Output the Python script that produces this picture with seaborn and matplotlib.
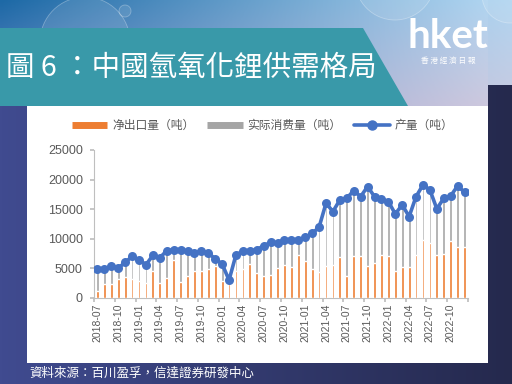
import numpy as np
import pandas as pd
import matplotlib
matplotlib.use("Agg")
import matplotlib.pyplot as plt
import seaborn as sns
from matplotlib.patches import Polygon, Rectangle, Circle
from matplotlib.lines import Line2D

# === Data ===
months = pd.period_range("2018-07", periods=54, freq="M").strftime("%Y-%m")
tick_labels = ["2018-07", "2018-10", "2019-01", "2019-04", "2019-07", "2019-10",
               "2020-01", "2020-04", "2020-07", "2020-10", "2021-01", "2021-04",
               "2021-07", "2021-10", "2022-01", "2022-04", "2022-07", "2022-10"]

net_export = [1240, 2300, 2300, 3150, 3480, 3150, 2920, 2470, 4490, 2470,
              3310, 6350, 2700, 3650, 4490, 4490, 4890, 5340, 2870, 2360,
              4550, 4940, 5670, 4210, 3650, 3820, 5110, 5620, 5220, 7190,
              6290, 4890, 4380, 5340, 5620, 6910, 3650, 7020, 7020, 5340,
              5840, 7190, 7020, 4550, 5280, 5170, 7190, 9720, 9210, 7250,
              7360, 9550, 8600, 8540]
consumption = [3500, 2450, 2840, 1710, 2330, 3670, 3340, 2950, 2500, 4130,
               4470, 1600, 5250, 4020, 2890, 3180, 2490, 1090, 2660, 470,
               2550, 2730, 2000, 3740, 4970, 5360, 3900, 4010, 4300, 2330,
               3730, 5810, 7390, 10470, 8790, 9460, 13000, 10930, 9910, 13280,
               11090, 9350, 9070, 9460, 10250, 8390, 9740, 9180, 8850, 7610,
               9290, 7500, 10130, 9130]
production = [4900, 4950, 5340, 5060, 6010, 7020, 6460, 5620, 7190, 6800,
              7980, 8150, 8150, 7870, 7580, 7870, 7580, 6630, 5730, 3030,
              7300, 7870, 7870, 8150, 8820, 9380, 9210, 9830, 9720, 9720,
              10220, 10900, 11970, 16010, 14610, 16570, 16850, 18150, 17130, 18820,
              17130, 16740, 16290, 14210, 15730, 13760, 17130, 19100, 18260, 15060,
              16850, 17250, 18930, 17870]

df = pd.DataFrame({"month": months, "export": net_export,
                   "consumption": consumption, "production": production})
df["stack_top"] = df["export"] + df["consumption"]
df["pos"] = np.arange(len(df))

ORANGE = "#ED7D31"
GRAY = "#A5A5A5"
BLUE = "#4472C4"
TEXT = "#595959"
AXIS = "#BFBFBF"

sns.set_theme(style="white")
plt.rcParams["font.family"] = ["Liberation Sans", "DejaVu Sans"]

fig = plt.figure(figsize=(5.12, 3.84), dpi=100)

# === Slide background ===
bg = fig.add_axes([0, 0, 1, 1], zorder=-1)
bg.set_xlim(0, 512)
bg.set_ylim(384, 0)
bg.axis("off")

# dark navy base, lighter on the left
left_c = np.array([64, 75, 144]) / 255
right_c = np.array([37, 41, 77]) / 255
t = np.linspace(0, 1, 256)[None, :, None]
bg.imshow(left_c + (right_c - left_c) * t, extent=(0, 512, 384, 0), aspect="auto")

# sky gradient at the top
tl = np.array([29, 105, 166]) / 255
tr = np.array([175, 212, 240]) / 255
bl = np.array([110, 140, 200]) / 255
br = np.array([205, 200, 222]) / 255
u = np.linspace(0, 1, 128)[None, :, None]
v = np.linspace(0, 1, 64)[:, None, None]
sky = (tl * (1 - u) + tr * u) * (1 - v) + (bl * (1 - u) + br * u) * v
bg.imshow(sky, extent=(0, 488, 106, 0), aspect="auto")
bg.imshow(sky[:44, -4:], extent=(488, 512, 85, 0), aspect="auto")
for cx, cy, r in [(85, 42, 45), (125, 11, 6), (395, -20, 40), (510, -5, 28)]:
    c = Circle((cx, cy), r, facecolor=(1, 1, 1, 0.10), edgecolor=(1, 1, 1, 0.3), lw=0.6)
    c.set_clip_path(Rectangle((0, 0), 512, 28, transform=bg.transData))
    bg.add_patch(c)

# teal title banner
bg.add_patch(Polygon([(0, 28), (363, 28), (408, 106), (0, 106)], closed=True,
                     facecolor="#3999A9", edgecolor="none"))
# white chart panel
bg.add_patch(Rectangle((27, 106), 461, 257, facecolor="white", edgecolor="none"))

cjk_tc = ["Noto Sans CJK TC", "DejaVu Sans"]
cjk_sc = ["Noto Sans CJK SC", "DejaVu Sans"]
bg.text(6, 68, "圖 6 ：中國氫氧化鋰供需格局", color="white", fontsize=20.5,
        va="center", ha="left", family=cjk_tc)
bg.text(448, 37, "hket", color="white", fontsize=29, fontweight="bold",
        va="center", ha="center", family=["Lato", "DejaVu Sans"])
bg.text(448, 61, "香 港 經 濟 日 報", color="white", fontsize=5.5,
        va="center", ha="center", family=cjk_tc)
bg.text(29, 373, "資料來源：百川盈孚，信達證券研發中心", color="white", fontsize=9,
        va="center", ha="left", family=cjk_tc)

# === Chart ===
ax = fig.add_axes([94 / 512, 86 / 384, 374 / 512, 148 / 384])

sns.barplot(data=df, x="month", y="stack_top", color=GRAY, saturation=1,
            width=0.4, ax=ax, zorder=2)
sns.barplot(data=df, x="month", y="export", color=ORANGE, saturation=1,
            width=0.4, ax=ax, zorder=3)
sns.lineplot(data=df, x="pos", y="production", color=BLUE, lw=2.6,
             marker="o", markersize=6.5, markeredgewidth=0, ax=ax, zorder=4)

ax.set_xlim(-0.5, 53.5)
ax.set_ylim(0, 25000)
ax.set_xlabel("")
ax.set_ylabel("")

for s in ["top", "right"]:
    ax.spines[s].set_visible(False)
for s in ["left", "bottom"]:
    ax.spines[s].set_color(AXIS)
    ax.spines[s].set_linewidth(0.8)

ax.set_yticks(np.arange(0, 25001, 5000))
ax.set_yticklabels([str(v) for v in range(0, 25001, 5000)])
ax.tick_params(axis="y", which="major", length=3, color=AXIS, pad=5,
               labelsize=9, labelcolor=TEXT, left=True)

ax.set_xticks(np.arange(-0.5, 54, 3))
ax.set_xticklabels([])
ax.set_xticks(np.arange(0, 54, 3), minor=True)
ax.set_xticklabels(tick_labels, minor=True, rotation=90)
ax.tick_params(axis="x", which="major", length=3, color=AXIS, bottom=True)
ax.tick_params(axis="x", which="minor", length=0, pad=4, labelsize=7.5,
               labelcolor=TEXT, bottom=True)
ax.grid(False)

handles = [Line2D([], [], color=ORANGE, lw=5, solid_capstyle="butt"),
           Line2D([], [], color=GRAY, lw=5, solid_capstyle="butt"),
           Line2D([], [], color=BLUE, lw=2.6, marker="o", markersize=6.5)]
labels = ["净出口量（吨）", "实际消费量（吨）", "产量（吨）"]
fig.legend(handles, labels, loc="center", bbox_to_anchor=(0.513, 0.674), ncol=3,
           frameon=False, prop={"family": cjk_sc, "size": 8.5}, labelcolor=TEXT,
           handlelength=3, handletextpad=0.4, columnspacing=1.1)

fig.savefig("out.png", dpi=100)
